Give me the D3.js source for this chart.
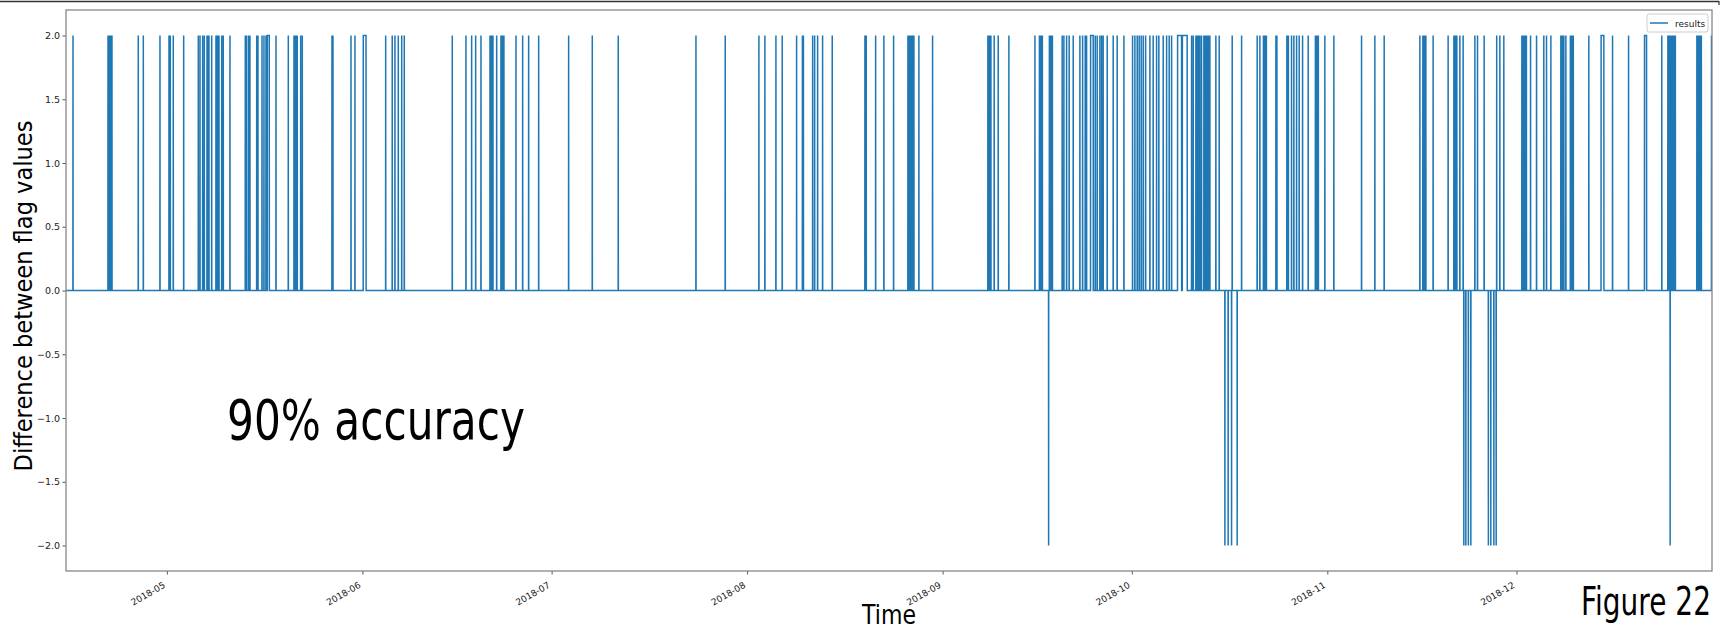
<!DOCTYPE html>
<html>
<head>
<meta charset="utf-8">
<script src="https://cdn.jsdelivr.net/npm/d3@7"></script>
<style>
  body { margin: 0; background: #fff; }
  svg { display: block; }
</style>
</head>
<body>
<svg id="chart" width="1721" height="630"></svg>
<script>
// Day of year 2018 (Jan 1 = 1, fractional) of samples where the flag difference is +2
const upSpikes = [
  106.11,
  111.66, 111.82, 111.98, 112.13, 112.29,
  116.46, 117.26, 119.90, 121.33, 121.54, 122.01, 123.66,
  125.98, 126.25, 126.67, 126.93, 127.36, 127.51, 127.67, 128.10,
  128.78, 128.94, 129.10, 129.26, 129.69, 129.94, 131.00,
  133.43, 133.65, 133.97, 134.17, 135.24, 135.44, 136.08, 136.39, 136.71,
  138.30, 140.25, 141.15, 141.31, 141.47, 141.67, 142.21, 142.47,
  147.17, 147.33,
  150.19, 150.82, 155.69, 156.73, 157.16, 157.69, 158.23, 158.64,
  166.25, 168.42, 169.32, 169.96, 170.80,
  172.23, 172.38, 172.54, 172.70, 173.29, 173.97, 174.13, 174.29, 174.44,
  176.35, 177.41, 178.36, 179.95, 184.70, 188.45, 192.57,
  204.89, 209.53, 214.87, 215.82, 217.57, 218.57, 220.85, 221.77, 221.93,
  223.39, 223.71, 224.18, 224.97, 226.50, 231.68, 231.89, 233.38, 234.69, 236.23,
  238.50, 238.66, 238.82, 238.97, 239.13, 239.29, 239.45,
  240.24, 242.41,
  251.18, 251.34, 251.50, 251.66, 252.18, 252.82, 254.51,
  258.64, 259.35, 259.59, 259.82, 260.93, 261.17, 261.41,
  262.96, 263.23, 263.66, 264.07, 264.71, 265.77, 266.20, 266.61, 266.83,
  268.20, 268.51, 268.94, 269.21, 269.46, 270.10, 271.05, 271.68, 272.75,
  274.12, 274.49, 274.86, 275.17, 275.49, 275.81, 276.19,
  276.87, 277.39, 277.93, 278.29, 278.98, 279.52, 279.93, 280.31,
  283.48, 283.74, 284.16, 284.32, 284.48, 284.64, 284.80, 285.06,
  285.43, 285.67, 285.91, 286.14, 286.38, 287.33, 287.86, 289.92, 291.41,
  293.88, 294.31, 294.87, 295.10, 295.34, 296.85, 297.01,
  298.59, 298.83, 299.33, 299.70, 300.13, 300.54, 301.08, 301.97,
  303.11, 303.35, 303.58, 304.61, 306.04,
  310.43, 312.54, 314.02,
  319.68, 320.15, 320.39, 320.63, 321.78,
  324.16, 325.07, 325.31, 325.54, 326.02, 326.54,
  328.40, 328.82, 329.87, 331.86, 332.36, 332.99,
  335.85, 336.09, 336.33, 336.57, 337.23, 338.18, 339.33, 339.76, 340.45,
  342.03, 342.27, 342.51, 342.83, 343.54, 343.77, 344.01,
  346.47, 350.23, 352.77, 358.04,
  359.00, 359.23, 359.47, 359.71, 359.95, 360.19,
  363.60, 363.83, 364.07, 364.31, 365.92
];

// Stretches where the difference stays at +2 over several samples: [start, end]
const upRuns = [
  [136.92, 137.23], [152.14, 152.57], [267.47, 267.88],
  [281.26, 281.89], [282.02, 282.78], [348.42, 348.85], [355.30, 355.62]
];

// Samples where the difference is -2
const downSpikes = [
  260.81,
  288.76, 289.28, 289.82, 290.71,
  326.65, 326.97, 327.37, 327.76,
  330.54, 330.93, 331.41, 331.78,
  359.36
];

const yTicks = [-2.0, -1.5, -1.0, -0.5, 0.0, 0.5, 1.0, 1.5, 2.0];
const xTickDates = ["2018-05-01", "2018-06-01", "2018-07-01", "2018-08-01",
                    "2018-09-01", "2018-10-01", "2018-11-01", "2018-12-01"];
const timeRange = ["2018-04-15", "2019-01-01"];
const seriesName = "results";

// ---- layout ----
const m = { left: 66, right: 1712, top: 10, bottom: 571 };
const C0 = "#1f77b4";
const STEP = 0.015;   // half-width of one sample, in days

const svg = d3.select("#chart");
const dayToDate = d => new Date(Date.UTC(2018, 0, 1) + (d - 1) * 864e5);

const x = d3.scaleUtc()
  .domain(timeRange.map(s => new Date(s + "T00:00:00Z")))
  .range([m.left, m.right]);
const y = d3.scaleLinear().domain([-2.2, 2.2]).range([m.bottom, m.top]);

// Build the flag-difference series from the recorded events
const events = [
  ...upSpikes.map(d => ({ s: d, e: d, v: 2 })),
  ...upRuns.map(([s, e]) => ({ s, e, v: 2 })),
  ...downSpikes.map(d => ({ s: d, e: d, v: -2 }))
].sort((a, b) => a.s - b.s);

const series = [{ t: 105, v: 0 }];
events.forEach(ev => {
  series.push({ t: ev.s - STEP, v: 0 });
  series.push({ t: ev.s, v: ev.v });
  series.push({ t: ev.e, v: ev.v });
  series.push({ t: ev.e + STEP, v: 0 });
});
series.push({ t: 366, v: 0 });

// top rule of the page
svg.append("line")
  .attr("x1", 0).attr("x2", 1719).attr("y1", 1.5).attr("y2", 1.5)
  .attr("stroke", "#333").attr("stroke-width", 1.5);
svg.append("line")
  .attr("x1", 1719).attr("x2", 1719).attr("y1", 1).attr("y2", 5)
  .attr("stroke", "#333").attr("stroke-width", 1.2);

svg.append("clipPath").attr("id", "plotClip")
  .append("rect")
  .attr("x", m.left).attr("y", m.top)
  .attr("width", m.right - m.left).attr("height", m.bottom - m.top);

// data line
const line = d3.line()
  .x(p => x(dayToDate(p.t)))
  .y(p => y(p.v));

svg.append("path")
  .datum(series)
  .attr("clip-path", "url(#plotClip)")
  .attr("fill", "none")
  .attr("stroke", C0)
  .attr("stroke-width", 1.5)
  .attr("stroke-linejoin", "miter")
  .attr("d", line);

// axes
const tickFont = "DejaVu Sans, sans-serif";

const xAxis = d3.axisBottom(x)
  .tickValues(xTickDates.map(s => new Date(s + "T00:00:00Z")))
  .tickFormat(d3.utcFormat("%Y-%m"))
  .tickSize(3.5)
  .tickSizeOuter(0);

const gx = svg.append("g")
  .attr("transform", `translate(0,${m.bottom})`)
  .call(xAxis);
gx.select(".domain").remove();
gx.selectAll(".tick line").attr("stroke", "#555").attr("stroke-width", 1);
gx.selectAll(".tick text")
  .attr("font-family", tickFont)
  .attr("font-size", 9)
  .attr("fill", "#222")
  .attr("text-anchor", "end")
  .attr("x", 0).attr("y", 0).attr("dy", 0)
  .attr("transform", "translate(-1.5,16) rotate(-30)");

const yAxis = d3.axisLeft(y)
  .tickValues(yTicks)
  .tickFormat(d3.format(".1f"))
  .tickSize(3.5)
  .tickSizeOuter(0);

const gy = svg.append("g")
  .attr("transform", `translate(${m.left},0)`)
  .call(yAxis);
gy.select(".domain").remove();
gy.selectAll(".tick line").attr("stroke", "#555").attr("stroke-width", 1);
gy.selectAll(".tick text")
  .attr("font-family", tickFont)
  .attr("font-size", 9.5)
  .attr("fill", "#222")
  .attr("x", -6)
  .text(d => d < 0 ? "\u2212" + Math.abs(d).toFixed(1) : d.toFixed(1));

// frame
svg.append("rect")
  .attr("x", m.left).attr("y", m.top)
  .attr("width", m.right - m.left).attr("height", m.bottom - m.top)
  .attr("fill", "none").attr("stroke", "#888").attr("stroke-width", 1.3);

// legend
const lg = svg.append("g");
lg.append("rect")
  .attr("x", 1647).attr("y", 14).attr("width", 61).attr("height", 18)
  .attr("rx", 2).attr("fill", "#fff").attr("fill-opacity", 0.85)
  .attr("stroke", "#ccc").attr("stroke-width", 1);
lg.append("line")
  .attr("x1", 1650).attr("x2", 1668).attr("y1", 23).attr("y2", 23)
  .attr("stroke", C0).attr("stroke-width", 1.5);
lg.append("text")
  .attr("x", 1675).attr("y", 26.5)
  .attr("font-family", tickFont).attr("font-size", 9)
  .attr("fill", "#222")
  .text(seriesName);

// titles and annotations: set in a narrow face, so glyphs are squeezed
// horizontally to the wanted width
const bigFont = "DejaVu Sans, Verdana, sans-serif";

function label(str, { x, y, size, width, anchor = "start", rotate = 0 }) {
  const g = svg.append("g")
    .attr("transform", `translate(${x},${y}) rotate(${rotate})`);
  const t = g.append("text")
    .attr("text-anchor", anchor)
    .attr("font-family", bigFont)
    .attr("font-size", size)
    .attr("fill", "#000")
    .text(str);
  const natural = t.node().getComputedTextLength();
  t.attr("transform", `scale(${width / natural},1)`);
  return t;
}

label("Difference between flag values",
  { x: 32, y: 296, size: 25, width: 351, anchor: "middle", rotate: -90 });
label("Time", { x: 889, y: 624, size: 26, width: 54, anchor: "middle" });
label("90% accuracy", { x: 227, y: 439, size: 55, width: 298 });
label("Figure 22", { x: 1581, y: 615, size: 39, width: 130 });
</script>
</body>
</html>
